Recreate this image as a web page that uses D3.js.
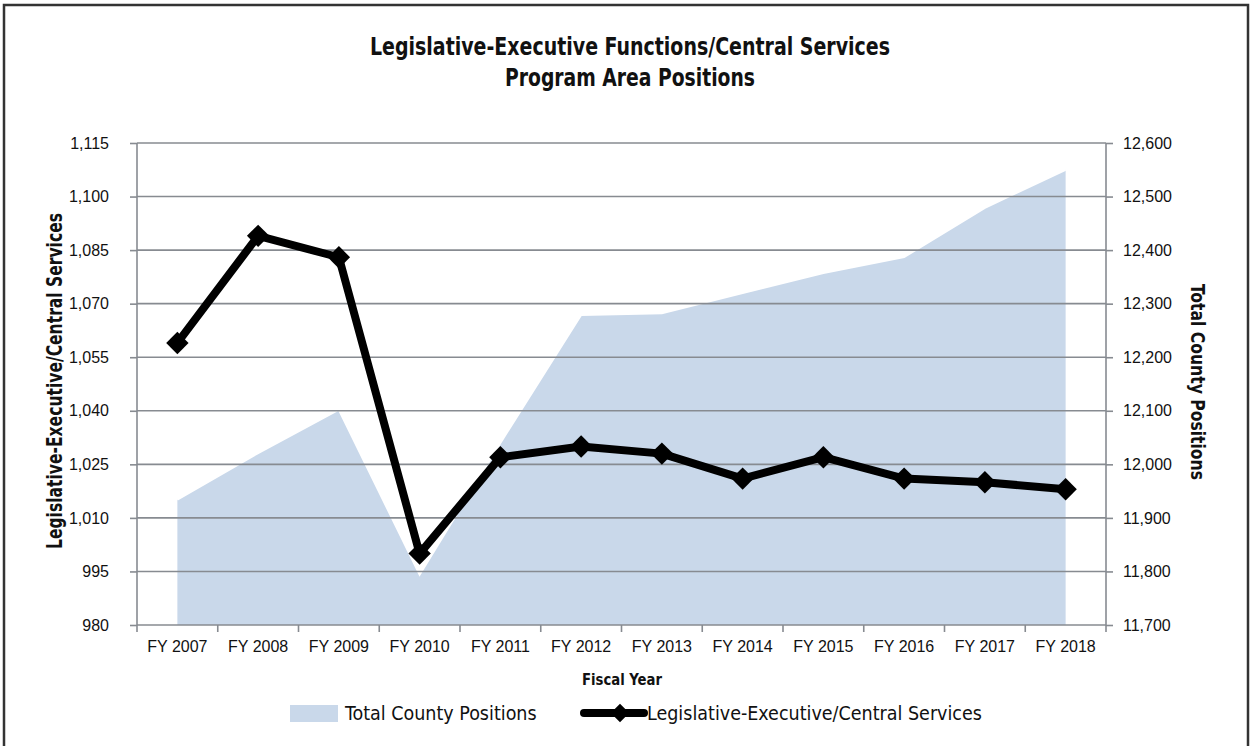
<!DOCTYPE html>
<meta charset="utf-8">
<style>
  body { margin: 0; background: #fff; }
  svg { font-family: "Liberation Sans Narrow", "DejaVu Sans Condensed", sans-serif; }
  .axis path { display: none; }
  .axis text { font-size: 16px; fill: #111; }
  .grid line { stroke: #878b91; stroke-width: 1.6px; }
</style>
<body>
<script src="https://d3js.org/d3.v7.min.js"></script>
<script>
// data
var years = ["FY 2007", "FY 2008", "FY 2009", "FY 2010", "FY 2011", "FY 2012",
             "FY 2013", "FY 2014", "FY 2015", "FY 2016", "FY 2017", "FY 2018"];
var legExec = [1059, 1089, 1083, 1000, 1027, 1030, 1028, 1021, 1027, 1021, 1020, 1018];
var countyTotal = [11934, 12021, 12102, 11794, 12040, 12279, 12282, 12320, 12357, 12387, 12479, 12550];
var leftTicks = [980, 995, 1010, 1025, 1040, 1055, 1070, 1085, 1100, 1115];
var rightTicks = [11700, 11800, 11900, 12000, 12100, 12200, 12300, 12400, 12500, 12600];

var W = 1251, H = 746;
var plot = {left: 137, right: 1106, top: 143, bottom: 625};

var svg = d3.select("body").append("svg")
    .attr("width", W)
    .attr("height", H);

// outer frame
svg.append("rect")
  .attr("x", 4).attr("y", 5)
  .attr("width", W - 7).attr("height", H + 10)
  .attr("fill", "none")
  .attr("stroke", "#333")
  .attr("stroke-width", 2.5);

// title (squeezed to mimic the condensed face)
svg.append("text")
  .attr("x", 630).attr("y", 55)
  .attr("text-anchor", "middle")
  .attr("font-weight", "bold").attr("font-size", 24).attr("fill", "#111")
  .attr("textLength", 520).attr("lengthAdjust", "spacingAndGlyphs")
  .text("Legislative-Executive Functions/Central Services");
svg.append("text")
  .attr("x", 630).attr("y", 86)
  .attr("text-anchor", "middle")
  .attr("font-weight", "bold").attr("font-size", 24).attr("fill", "#111")
  .attr("textLength", 250).attr("lengthAdjust", "spacingAndGlyphs")
  .text("Program Area Positions");

var xBand = d3.scaleBand().domain(years).range([plot.left, plot.right]);
var xPoint = d3.scalePoint().domain(years).range([plot.left, plot.right]).padding(0.5);
var yLeft = d3.scaleLinear().domain([980, 1115]).range([plot.bottom, plot.top]);
var yRight = d3.scaleLinear().domain([11700, 12600]).range([plot.bottom, plot.top]);

// area for total county positions
var area = d3.area()
  .x(function(d, i) { return xPoint(years[i]); })
  .y0(plot.bottom)
  .y1(function(d) { return yRight(d); });

svg.append("path")
  .datum(countyTotal)
  .attr("d", area)
  .attr("fill", "#c9d8ea");

svg.append("path")
  .datum(countyTotal)
  .attr("d", d3.line().x(function(d, i) { return xPoint(years[i]); }).y(function(d) { return yRight(d); }))
  .attr("fill", "none")
  .attr("stroke", "#fff")
  .attr("stroke-width", 2);

// horizontal gridlines drawn on top of the area
svg.append("g").attr("class", "grid")
  .selectAll("line")
  .data(leftTicks.slice(1))
  .enter().append("line")
  .attr("x1", plot.left).attr("x2", plot.right)
  .attr("y1", function(d) { return yLeft(d); })
  .attr("y2", function(d) { return yLeft(d); });

// axes
var axisColor = "#878b91";
var gLeft = svg.append("g").attr("class", "axis")
  .attr("transform", "translate(" + plot.left + ",0)")
  .call(d3.axisLeft(yLeft).tickValues(leftTicks).tickFormat(d3.format(",")).tickSize(7).tickPadding(21));
gLeft.selectAll("line").attr("stroke", axisColor).attr("stroke-width", 1.6);

var gRight = svg.append("g").attr("class", "axis")
  .attr("transform", "translate(" + plot.right + ",0)")
  .call(d3.axisRight(yRight).tickValues(rightTicks).tickFormat(d3.format(",")).tickSize(7).tickPadding(10));
gRight.selectAll("line").attr("stroke", axisColor).attr("stroke-width", 1.6);

var gBottom = svg.append("g").attr("class", "axis")
  .attr("transform", "translate(0," + plot.bottom + ")")
  .call(d3.axisBottom(xBand).tickSize(0).tickPadding(16));

// tick marks at band edges on the x axis
var edges = years.map(function(c) { return xBand(c); }).concat([plot.right]);
gBottom.selectAll(".edge")
  .data(edges)
  .enter().append("line")
  .attr("class", "edge")
  .attr("x1", function(d) { return d; }).attr("x2", function(d) { return d; })
  .attr("y1", 0).attr("y2", 7)
  .attr("stroke", axisColor).attr("stroke-width", 1.6);

// axis lines
svg.append("line")
  .attr("x1", plot.left).attr("x2", plot.left)
  .attr("y1", plot.top).attr("y2", plot.bottom)
  .attr("stroke", axisColor).attr("stroke-width", 1.6);
svg.append("line")
  .attr("x1", plot.right).attr("x2", plot.right)
  .attr("y1", plot.top).attr("y2", plot.bottom)
  .attr("stroke", axisColor).attr("stroke-width", 1.6);
svg.append("line")
  .attr("x1", plot.left).attr("x2", plot.right)
  .attr("y1", plot.bottom).attr("y2", plot.bottom)
  .attr("stroke", axisColor).attr("stroke-width", 1.6);

// the line series with diamond markers
var line = d3.line()
  .x(function(d, i) { return xPoint(years[i]); })
  .y(function(d) { return yLeft(d); });

svg.append("path")
  .datum(legExec)
  .attr("d", line)
  .attr("fill", "none")
  .attr("stroke", "#000")
  .attr("stroke-width", 8)
  .attr("stroke-linejoin", "round");

var diamond = d3.symbol().type(d3.symbolDiamond2).size(320);
svg.selectAll(".marker")
  .data(legExec)
  .enter().append("path")
  .attr("class", "marker")
  .attr("d", diamond)
  .attr("transform", function(d, i) { return "translate(" + xPoint(years[i]) + "," + yLeft(d) + ")"; })
  .attr("fill", "#000");

// axis titles
svg.append("text")
  .attr("transform", "translate(62,381) rotate(-90)")
  .attr("text-anchor", "middle")
  .attr("font-weight", "bold").attr("font-size", 21).attr("fill", "#111")
  .attr("textLength", 336).attr("lengthAdjust", "spacingAndGlyphs")
  .text("Legislative-Executive/Central Services");

svg.append("text")
  .attr("transform", "translate(1191,382) rotate(90)")
  .attr("text-anchor", "middle")
  .attr("font-weight", "bold").attr("font-size", 19).attr("fill", "#111")
  .attr("textLength", 196).attr("lengthAdjust", "spacingAndGlyphs")
  .text("Total County Positions");

svg.append("text")
  .attr("x", 622).attr("y", 685)
  .attr("text-anchor", "middle")
  .attr("font-weight", "bold").attr("font-size", 16).attr("fill", "#111")
  .attr("textLength", 80).attr("lengthAdjust", "spacingAndGlyphs")
  .text("Fiscal Year");

// legend
var legend = svg.append("g");
legend.append("rect")
  .attr("x", 290).attr("y", 705).attr("width", 48).attr("height", 17)
  .attr("fill", "#c9d8ea");
legend.append("text")
  .attr("x", 345).attr("y", 720)
  .attr("font-size", 19.5).attr("fill", "#111")
  .text("Total County Positions");
legend.append("line")
  .attr("x1", 584).attr("x2", 644).attr("y1", 713).attr("y2", 713)
  .attr("stroke", "#000").attr("stroke-width", 8).attr("stroke-linecap", "round");
legend.append("path")
  .attr("d", d3.symbol().type(d3.symbolDiamond2).size(220))
  .attr("transform", "translate(620,713)")
  .attr("fill", "#000");
legend.append("text")
  .attr("x", 647).attr("y", 720)
  .attr("font-size", 19.5).attr("fill", "#111")
  .text("Legislative-Executive/Central Services");
</script>
</body>
